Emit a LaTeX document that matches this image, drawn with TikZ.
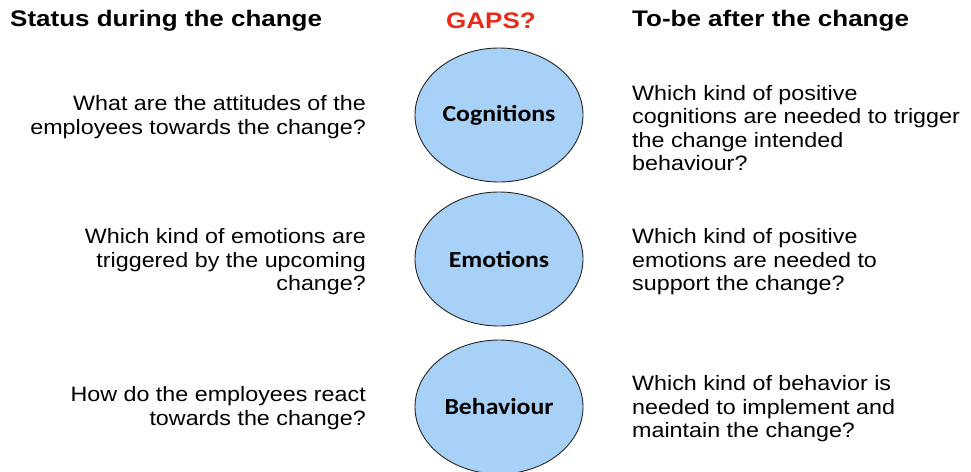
\documentclass[tikz,border=0pt]{standalone}
\usepackage{fontspec}
\setmainfont[FakeStretch=1.12]{Liberation Sans}
\newfontfamily\headfont[FakeStretch=1.155]{Liberation Sans}
\newfontfamily\carlito[FakeStretch=1.12]{Carlito}
\usetikzlibrary{positioning}
\usetikzlibrary{shapes.geometric}
\definecolor{gapred}{rgb}{0.92, 0.16, 0.10}
\definecolor{gapblue}{rgb}{0.66, 0.82, 0.97}
\tikzset{head/.style = {font=\headfont\fontsize{22.5}{26}\selectfont\bfseries, inner sep = 0},
  gap/.style = {ellipse, draw = black!85, line width = 0.9, fill = gapblue, minimum width = 168, minimum height = 134, inner sep = 0, font=\carlito\fontsize{23}{26}\selectfont\bfseries},
  qleft/.style = {anchor = east, align = right, inner sep = 0, font=\fontsize{20.8}{23.5}\selectfont},
  qright/.style = {anchor = west, align = left, inner sep = 0, font=\fontsize{20.8}{23.5}\selectfont}}

\begin{document}
\begin{tikzpicture}[x=1pt, y=-1pt]
    \useasboundingbox (0, 0) rectangle (971, 471);

    \node [head, anchor = west] (status) at (10, 21) {Status during the change};
    \node [head, text = gapred] (gaps) at (491, 21) {GAPS?};
    \node [head, anchor = west] (tobe) at (632, 21) {To-be after the change};

    \node [gap] (cog) at (499, 115) {Cognitions};
    \node [gap] (emo) at (499, 259) {Emotions};
    \node [gap] (beh) at (499, 407) {Behaviour};

    \node [qleft] (cogl) at (366, 117) {What are the attitudes of the\\employees towards the change?};
    \node [qleft] (emol) at (366, 262) {Which kind of emotions are\\triggered by the upcoming\\change?};
    \node [qleft] (behl) at (366, 408) {How do the employees react\\towards the change?};

    \node [qright] (cogr) at (632, 128) {Which kind of positive\\cognitions are needed to trigger\\the change intended\\behaviour?};
    \node [qright] (emor) at (632, 262) {Which kind of positive\\emotions are needed to\\support the change?};
    \node [qright] (behr) at (632, 409) {Which kind of behavior is\\needed to implement and\\maintain the change?};

  \end{tikzpicture}
\end{document}
